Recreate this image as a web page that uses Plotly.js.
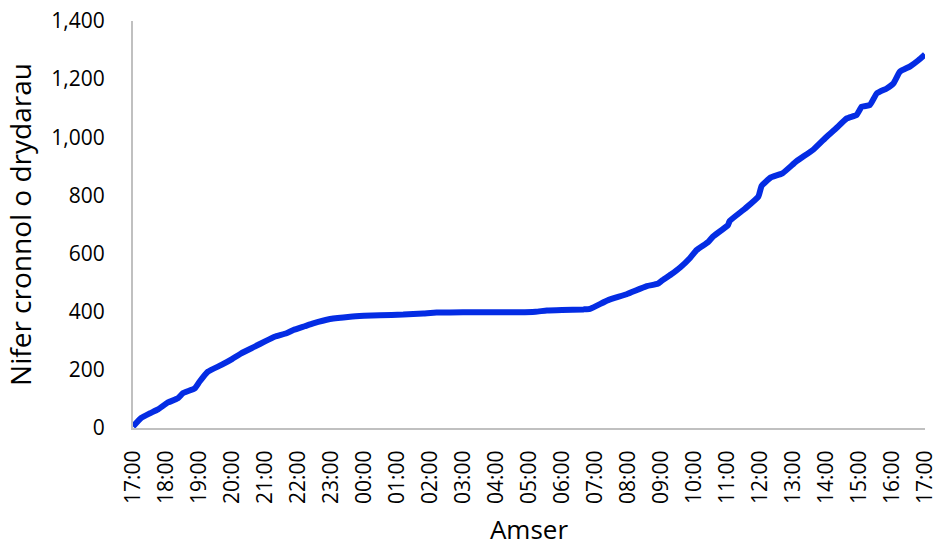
<!DOCTYPE html>
<html>
<head>
<meta charset="utf-8">
<script src="https://cdn.plot.ly/plotly-3.0.1.min.js"></script>
<style>
  html, body { margin: 0; padding: 0; background: #fff; }
  #chart { width: 938px; height: 548px; }
</style>
</head>
<body>
<div id="chart"></div>
<script>
// Hours elapsed since 17:00 on the first day
const hoursSinceStart = [
  0, 0.25, 0.5, 0.76, 1.06, 1.36, 1.52, 1.87, 2.02, 2.27, 2.68, 3.0, 3.28, 3.69, 4.0,
  4.29, 4.65, 4.86, 5.2, 5.46, 5.97, 6.58, 7.0, 7.48, 8.19, 8.8, 9.2, 10.0, 10.8, 11.73,
  12.2, 12.54, 13.0, 13.65, 13.85, 14.4, 14.96, 15.57, 15.9, 16.04, 16.3, 16.58, 16.88,
  17.08, 17.43, 17.57, 18.03, 18.08, 18.55, 18.95, 19.05, 19.33, 19.68, 20.11, 20.62,
  21.02, 21.3, 21.63, 21.93, 22.08, 22.33, 22.54, 22.84, 23.04, 23.24, 23.55, 23.8, 24.0
];
// Cumulative number of tweets
const cumulativeTweets = [
  5, 35, 50, 64, 88, 102, 120, 136, 160, 194, 217, 237, 257, 280, 298,
  314, 326, 337, 350, 360, 375, 383, 386, 388, 390, 394, 397, 398, 398, 398,
  400, 404, 406, 408, 410, 440, 460, 488, 496, 508, 528, 552, 585,
  612, 640, 658, 698, 712, 755, 796, 833, 862, 876, 918, 958,
  1002, 1030, 1065, 1077, 1105, 1111, 1151, 1168, 1185, 1226, 1244, 1265, 1285
];
const tickHours = [0,1,2,3,4,5,6,7,8,9,10,11,12,13,14,15,16,17,18,19,20,21,22,23,24];
const tickLabels = ['17:00','18:00','19:00','20:00','21:00','22:00','23:00','00:00','01:00',
  '02:00','03:00','04:00','05:00','06:00','07:00','08:00','09:00','10:00','11:00','12:00',
  '13:00','14:00','15:00','16:00','17:00'];
const yTicks = [0,200,400,600,800,1000,1200,1400];

const trace = {
  x: hoursSinceStart,
  y: cumulativeTweets,
  type: 'scatter',
  mode: 'lines',
  line: { color: 'rgb(4,44,228)', width: 6, shape: 'spline', smoothing: 0.4 },
  hoverinfo: 'skip'
};

const font = "'Open Sans', 'Noto Sans', sans-serif";
const layout = {
  width: 938, height: 548,
  margin: { l: 133, r: 13, t: 21, b: 120 },
  paper_bgcolor: '#ffffff', plot_bgcolor: '#ffffff',
  showlegend: false,
  font: { family: font, color: '#000000', size: 21 },
  xaxis: {
    range: [0, 24],
    tickmode: 'array', tickvals: tickHours, ticktext: tickLabels,
    tickangle: -90,
    showgrid: false, zeroline: false,
    showline: true, linecolor: '#c0c0c0', linewidth: 2,
    ticks: '', ticklabelstandoff: 12,
    tickfont: { family: font, size: 21, color: '#000' },
    title: { text: 'Amser', font: { family: font, size: 26, color: '#000' }, standoff: 18 }
  },
  yaxis: {
    range: [0, 1400],
    tickmode: 'array', tickvals: yTicks,
    tickformat: ',d',
    showgrid: false, zeroline: false,
    showline: true, linecolor: '#c0c0c0', linewidth: 2,
    ticks: '', ticklabelstandoff: 22,
    tickfont: { family: font, size: 21, color: '#000' },
    title: { text: 'Nifer cronnol o drydarau', font: { family: font, size: 28, color: '#000' }, standoff: 12 }
  }
};

Plotly.newPlot('chart', [trace], layout, { displayModeBar: false, staticPlot: true });
</script>
</body>
</html>
